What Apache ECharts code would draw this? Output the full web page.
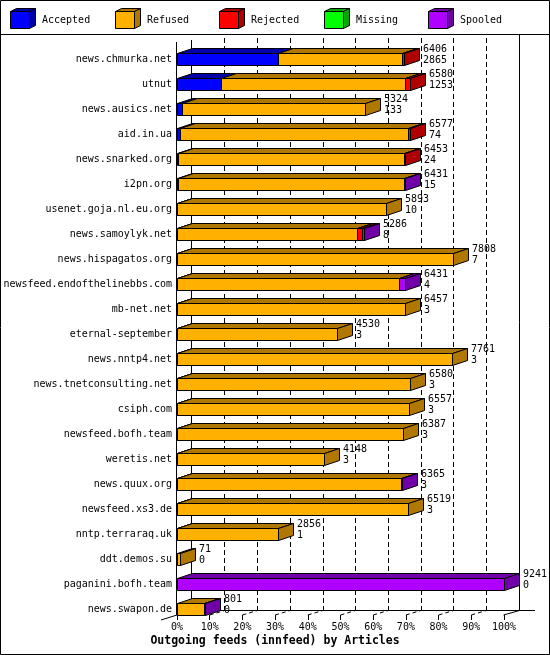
<!DOCTYPE html>
<html><head><meta charset="utf-8">
<script src="https://cdn.jsdelivr.net/npm/echarts@6/dist/echarts.min.js"></script>
<style>html,body{margin:0;padding:0;background:#fff}#c{width:550px;height:655px}</style>
</head><body><div id="c"></div>
<script>
const categories = ['news.chmurka.net','utnut','news.ausics.net','aid.in.ua','news.snarked.org','i2pn.org','usenet.goja.nl.eu.org','news.samoylyk.net','news.hispagatos.org','newsfeed.endofthelinebbs.com','mb-net.net','eternal-september','news.nntp4.net','news.tnetconsulting.net','csiph.com','newsfeed.bofh.team','weretis.net','news.quux.org','newsfeed.xs3.de','nntp.terraraq.uk','ddt.demos.su','paganini.bofh.team','news.swapon.de'];
const totals   = [6406,6580,5324,6577,6453,6431,5893,5286,7808,6431,6457,4530,7761,6580,6557,6387,4148,6365,6519,2856,71,9241,801];
const accepted = [2865,1253,133,74,24,15,10,8,7,4,3,3,3,3,3,3,3,3,3,1,0,0,0];
const refused  = [3501,5197,5191,6443,6404,6391,5883,5088,7801,6257,6454,4527,7758,6577,6554,6384,4145,6337,6516,2855,71,0,761];
const rejected = [40,130,0,60,25,0,0,120,0,0,0,0,0,0,0,0,0,0,0,0,0,0,0];
const missing  = [0,0,0,0,0,0,0,0,0,0,0,0,0,0,0,0,0,0,0,0,0,0,0];
const spooled  = [0,0,0,0,0,25,0,70,0,170,0,0,0,0,0,0,0,25,0,0,0,9241,40];
const maxTotal = 9241;
const tickLabels = ['0%','10%','20%','30%','40%','50%','60%','70%','80%','90%','100%'];

const FONT = '"DejaVu Sans Mono", "Liberation Mono", monospace';
const types = [
  {name:'Accepted', data:accepted, front:'#0000ff', dark:'#0000a8'},
  {name:'Refused',  data:refused,  front:'#ffb000', dark:'#b07800'},
  {name:'Rejected', data:rejected, front:'#ff0000', dark:'#b00000'},
  {name:'Missing',  data:missing,  front:'#00ff00', dark:'#00a800'},
  {name:'Spooled',  data:spooled,  front:'#b000ff', dark:'#7000a8'}
];
const DX = 15, DY = 5, H = 12;

// last non-zero segment per row
const lastType = categories.map((c,i)=>{let l=-1; types.forEach((t,k)=>{ if(t.data[i]>0) l=k; }); return l;});
const cum = categories.map(()=>0);
const series = types.map((t,k)=>{
  const items = [];
  categories.forEach((c,i)=>{
    const v = t.data[i];
    if (v>0) items.push([i, cum[i], cum[i]+v, lastType[i]===k?1:0]);
    cum[i]+=v;
  });
  return {
    type:'custom', name:t.name, xAxisIndex:0, yAxisIndex:0, z:5,
    data: items,
    renderItem(params, api){
      const ci = api.value(0);
      const p0 = api.coord([api.value(1), ci]);
      const p1 = api.coord([api.value(2), ci]);
      const x0 = Math.round(p0[0])+0.5, x1 = Math.round(p1[0])+0.5;
      const yc = Math.round(p0[1]);
      const yt = yc - H/2 + 0.5, yb = yc + H/2 + 0.5;
      const st = {stroke:'#000', lineWidth:1};
      const ch = [
        {type:'polygon', shape:{points:[[x0,yt],[x0+DX,yt-DY],[x1+DX,yt-DY],[x1,yt]]}, style:Object.assign({fill:t.dark},st)},
        {type:'rect', shape:{x:x0,y:yt,width:x1-x0,height:H}, style:Object.assign({fill:t.front},st)}
      ];
      if (api.value(3)) ch.push({type:'polygon', shape:{points:[[x1,yt],[x1+DX,yt-DY],[x1+DX,yb-DY],[x1,yb]]}, style:Object.assign({fill:t.dark},st)});
      return {type:'group', children:ch};
    }
  };
});
// value labels
series.push({
  type:'custom', name:'labels', xAxisIndex:0, yAxisIndex:0, z:6,
  data: categories.map((c,i)=>[i, totals[i], accepted[i]]),
  renderItem(params, api){
    const p = api.coord([api.value(1), api.value(0)]);
    return {type:'text', style:{text: api.value(1)+'\n'+api.value(2), x: Math.round(p[0])+DX+4, y: Math.round(p[1])-4,
      fill:'#000', font:'10px '+FONT, lineHeight:11, verticalAlign:'middle', align:'left'}};
  }
});

const G = {left:177, width:327, frontBottom:615, backBottom:610};
const graphic = [];
graphic.push({type:'rect', shape:{x:0.5,y:0.5,width:549,height:654}, style:{fill:'none',stroke:'#000',lineWidth:1}, z:100});
graphic.push({type:'line', shape:{x1:0,y1:34.5,x2:550,y2:34.5}, style:{stroke:'#000',lineWidth:1}, z:100});
// legend
types.forEach((t,k)=>{
  const x = 10 + Math.round(k*104.6), y = 11;
  const w = 19, h = 17, dx = 6, dy = 3;
  graphic.push({type:'polygon', shape:{points:[[x+0.5,y+0.5],[x+dx+0.5,y-dy+0.5],[x+w+dx+0.5,y-dy+0.5],[x+w+0.5,y+0.5]]}, style:{fill:t.dark,stroke:'#000',lineWidth:1}});
  graphic.push({type:'polygon', shape:{points:[[x+w+0.5,y+0.5],[x+w+dx+0.5,y-dy+0.5],[x+w+dx+0.5,y+h-dy+0.5],[x+w+0.5,y+h+0.5]]}, style:{fill:t.dark,stroke:'#000',lineWidth:1}});
  graphic.push({type:'rect', shape:{x:x+0.5,y:y+0.5,width:w,height:h}, style:{fill:t.front,stroke:'#000',lineWidth:1}});
  graphic.push({type:'text', style:{text:t.name, x:x+32, y:20, fill:'#000', font:'10px '+FONT, verticalAlign:'middle'}});
});
// walls
graphic.push({type:'line', shape:{x1:176.5,y1:42,x2:176.5,y2:615}, style:{stroke:'#000',lineWidth:1}, z:0});
graphic.push({type:'line', shape:{x1:191.5,y1:40,x2:191.5,y2:610.5}, style:{stroke:'#000',lineWidth:1}, z:0});
graphic.push({type:'line', shape:{x1:519.5,y1:35,x2:519.5,y2:610.5}, style:{stroke:'#000',lineWidth:1}, z:0});
graphic.push({type:'line', shape:{x1:191,y1:610.5,x2:535,y2:610.5}, style:{stroke:'#000',lineWidth:1}, z:0});
graphic.push({type:'line', shape:{x1:161,y1:620,x2:177,y2:615}, style:{stroke:'#000',lineWidth:1}, z:0});
graphic.push({type:'line', shape:{x1:503.5,y1:615,x2:519.5,y2:610.5}, style:{stroke:'#000',lineWidth:1}, z:0});
for (let i=1;i<10;i++){
  const xf = G.left + G.width*i/10;
  graphic.push({type:'line', shape:{x1:xf,y1:615,x2:xf+DX,y2:610.5}, style:{stroke:'#000',lineWidth:1,lineDash:[4,3]}, z:0});
}
graphic.push({type:'text', style:{text:'Outgoing feeds (innfeed) by Articles', x:275, y:641, fill:'#000', font:'bold 11.5px '+FONT, align:'center', verticalAlign:'middle'}});

const chart = echarts.init(document.getElementById('c'), null, {renderer:'canvas'});
chart.setOption({
  backgroundColor:'#fff',
  animation:false,
  grid:[
    {left:177, top:46.5, width:327, height:575},
    {left:192, top:38, width:327, height:572},
    {left:177, top:40, width:327, height:575}
  ],
  xAxis:[
    {gridIndex:0, type:'value', min:0, max:maxTotal, show:false},
    {gridIndex:1, type:'value', min:0, max:maxTotal, interval:maxTotal/10,
      axisLine:{show:false}, axisTick:{show:false}, axisLabel:{show:false},
      splitLine:{show:true, showMinLine:false, showMaxLine:false, lineStyle:{color:'#000', type:[5,3], width:1}}},
    {gridIndex:2, type:'value', min:0, max:maxTotal, interval:maxTotal/10,
      axisLine:{show:false}, splitLine:{show:false},
      axisTick:{show:true, length:5, lineStyle:{color:'#000'}},
      axisLabel:{show:true, margin:7, color:'#000', fontFamily:FONT, fontSize:10,
        formatter:(v)=>tickLabels[Math.round(v/maxTotal*10)]}}
  ],
  yAxis:[
    {gridIndex:0, type:'category', data:categories, inverse:true,
      axisLine:{show:false}, axisTick:{show:false}, splitLine:{show:false},
      axisLabel:{margin:5, color:'#000', fontFamily:FONT, fontSize:10}},
    {gridIndex:1, type:'value', show:false, splitLine:{show:false}},
    {gridIndex:2, type:'value', show:false, splitLine:{show:false}}
  ],
  graphic: graphic,
  series: series
});
</script></body></html>
